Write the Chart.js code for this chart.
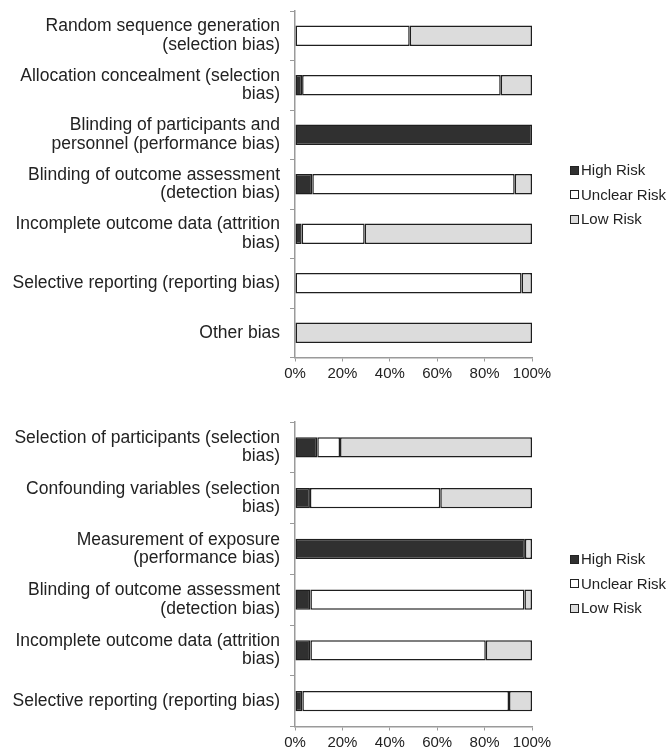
<!DOCTYPE html>
<html>
<head>
<meta charset="utf-8">
<script src="https://cdn.jsdelivr.net/npm/chart.js@4.4.0/dist/chart.umd.min.js"></script>
<style>
  html, body { margin: 0; padding: 0; background: #fff; }
  body { width: 668px; height: 750px; position: relative; overflow: hidden; font-family: 'Liberation Sans', Arial, sans-serif; color: #222; }
  .wrap { position: absolute; left: 0; width: 668px; }
  .legend { position: absolute; left: 570px; font-size: 15px; color: #222; }
  .legend div { position: absolute; left: 0; white-space: nowrap; height: 18px; line-height: 18px; }
  .legend span.box { display: inline-block; width: 7px; height: 7px; border: 1.5px solid #222; vertical-align: middle; margin-right: 2px; position: relative; top: -1px; }
</style>
</head>
<body>
<div class="wrap" style="top:0;height:390px;"><canvas id="c1"></canvas></div>
<div class="wrap" style="top:390px;height:360px;"><canvas id="c2"></canvas></div>
<div class="legend" id="lg1" style="top:161px;"></div>
<div class="legend" id="lg2" style="top:550px;"></div>
<script>
const seriesNames = ['High Risk', 'Unclear Risk', 'Low Risk'];
const seriesColors = ['#303030', '#ffffff', '#dcdcdc'];

const categories1 = [
  ['Random sequence generation', '(selection bias)'],
  ['Allocation concealment (selection', 'bias)'],
  ['Blinding of participants and', 'personnel (performance bias)'],
  ['Blinding of outcome assessment', '(detection bias)'],
  ['Incomplete outcome data (attrition', 'bias)'],
  'Selective reporting (reporting bias)',
  'Other bias'
];
const high1 = [0, 3, 100, 7.3, 2.8, 0, 0];
const unclear1 = [48.4, 83.8, 0, 85.4, 26.6, 95.6, 0];
const low1 = [51.6, 13.2, 0, 7.3, 70.6, 4.4, 100];

const categories2 = [
  ['Selection of participants (selection', 'bias)'],
  ['Confounding variables (selection', 'bias)'],
  ['Measurement of exposure', '(performance bias)'],
  ['Blinding of outcome assessment', '(detection bias)'],
  ['Incomplete outcome data (attrition', 'bias)'],
  'Selective reporting (reporting bias)'
];
const high2 = [9.4, 6.3, 97, 6.5, 6.5, 3.1];
const unclear2 = [9.6, 55, 0, 90.3, 74, 87.2];
const low2 = [81, 38.7, 3, 3.2, 19.5, 9.7];

const xTicks = [0, 20, 40, 60, 80, 100];

const FONT = "'Liberation Sans', Arial, sans-serif";
Chart.defaults.font.family = FONT;
Chart.defaults.color = '#222';

function makeChart(id, cats, h, u, l, opts) {
  const data = {
    labels: cats,
    datasets: [h, u, l].map((vals, i) => ({
      label: seriesNames[i],
      data: vals,
      backgroundColor: seriesColors[i],
      borderColor: '#1e1e1e',
      borderWidth: 1.5,
      borderSkipped: false,
      barPercentage: opts.barPct,
      categoryPercentage: 1
    }))
  };
  return new Chart(document.getElementById(id), {
    type: 'bar',
    data,
    options: {
      indexAxis: 'y',
      responsive: true,
      maintainAspectRatio: false,
      animation: false,
      layout: { padding: { top: opts.padTop, right: 136, left: 0, bottom: 0 } },
      plugins: { legend: { display: false }, tooltip: { enabled: false } },
      scales: {
        y: {
          stacked: true,
          grid: { display: true, drawOnChartArea: false, drawTicks: true, tickLength: 5, color: '#9a9a9a', lineWidth: 1 },
          border: { display: true, color: '#9a9a9a', width: 1.5 },
          ticks: { padding: 10, color: '#222', font: { size: 17.5, lineHeight: 1.05 } },
          afterFit: (s) => { s.width = 295; s.paddingTop = 0; s.paddingBottom = 0; }
        },
        x: {
          stacked: true,
          min: 0, max: 100,
          afterBuildTicks: (s) => { s.ticks = xTicks.map(v => ({ value: v })); },
          grid: { display: true, drawOnChartArea: false, drawTicks: true, tickLength: 4, color: '#9a9a9a' },
          border: { display: true, color: '#9a9a9a', width: 1.5 },
          ticks: { padding: 3, color: '#222', font: { size: 15 }, maxRotation: 0, callback: (v) => v + '%' },
          afterFit: (s) => { s.height = opts.xHeight; s.paddingLeft = 0; s.paddingRight = 0; }
        }
      }
    }
  });
}

makeChart('c1', categories1, high1, unclear1, low1, { padTop: 11, xHeight: 32.5, barPct: 0.41 });
makeChart('c2', categories2, high2, unclear2, low2, { padTop: 32, xHeight: 23.5, barPct: 0.40 });

function buildLegend(id) {
  const el = document.getElementById(id);
  seriesNames.forEach((n, i) => {
    const d = document.createElement('div');
    d.style.top = (i * 24.5) + 'px';
    d.innerHTML = '<span class="box" style="background:' + seriesColors[i] + '"></span>' + n;
    el.appendChild(d);
  });
}
buildLegend('lg1');
buildLegend('lg2');
</script>
</body>
</html>
